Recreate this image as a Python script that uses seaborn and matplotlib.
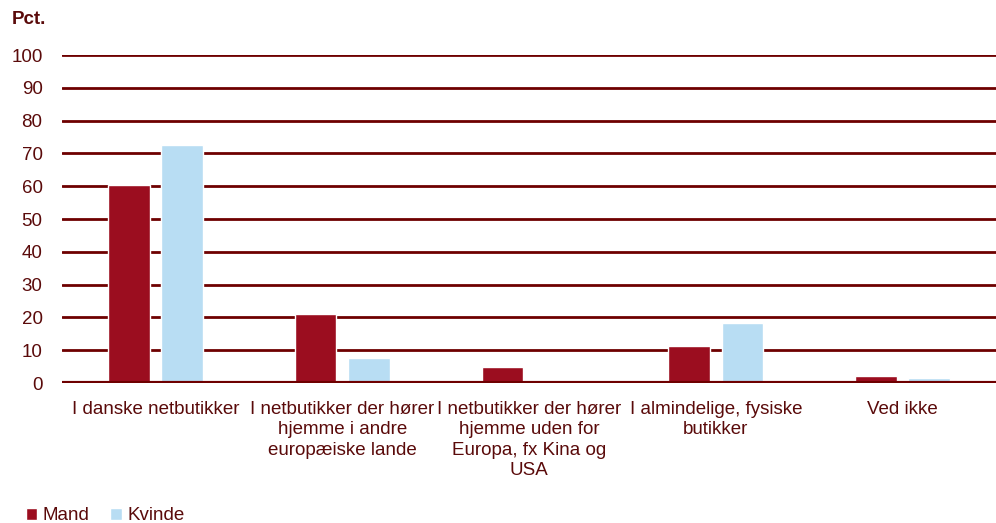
import pandas as pd
import matplotlib.pyplot as plt
import seaborn as sns

# Data
categories = [
    "I danske netbutikker",
    "I netbutikker der hører\nhjemme i andre\neuropæiske lande",
    "I netbutikker der hører\nhjemme uden for\nEuropa, fx Kina og\nUSA",
    "I almindelige, fysiske\nbutikker",
    "Ved ikke",
]
mand = [60.5, 21, 5, 11.3, 2]
kvinde = [72.7, 7.5, 0, 18.3, 1.5]
series = ["Mand", "Kvinde"]

df = pd.DataFrame({
    "Kategori": categories * 2,
    "Køn": [series[0]] * len(categories) + [series[1]] * len(categories),
    "Pct": mand + kvinde,
})

text_col = "#5a0a0a"
grid_col = "#6e0000"
fs = 13.5

sns.set_style("white")
plt.rcParams["font.family"] = ["Liberation Sans", "DejaVu Sans"]

fig = plt.figure(figsize=(9.96, 5.23), dpi=100)
ax = fig.add_axes([62 / 996, 1 - 383 / 523, (996 - 62) / 996, (383 - 55) / 523])

sns.barplot(data=df, x="Kategori", y="Pct", hue="Køn", order=categories,
            hue_order=series, palette=["#9b0d1f", "#b8ddf3"], saturation=1,
            width=0.57, gap=0.22, ax=ax, zorder=3)

ax.set_ylim(0, 100)
ax.set_xlim(-0.5, len(categories) - 0.5)
ax.set_yticks(range(0, 101, 10))
for y in range(10, 101, 10):
    ax.axhline(y, color=grid_col, lw=2, zorder=1)
ax.axhline(0, color=grid_col, lw=3, zorder=4)

for s in ax.spines.values():
    s.set_visible(False)
ax.tick_params(axis="both", length=0, colors=text_col, labelsize=fs)
ax.tick_params(axis="x", pad=13)
ax.tick_params(axis="y", pad=14)
ax.set_xlabel("")
ax.set_ylabel("")
for lab in ax.get_xticklabels():
    lab.set_linespacing(1.25)

fig.text(12 / 996, 1 - 19 / 523, "Pct.", fontsize=fs, fontweight="bold",
         color=text_col, va="center", ha="left")

ax.legend(loc="center left", bbox_to_anchor=(26 / 996, 1 - 516 / 523),
          bbox_transform=fig.transFigure, ncol=2, frameon=False, fontsize=fs,
          handlelength=0.6, handleheight=0.6, handletextpad=0.3,
          columnspacing=1.1, labelcolor=text_col, borderpad=0, borderaxespad=0)

fig.savefig("out.png", dpi=100)
